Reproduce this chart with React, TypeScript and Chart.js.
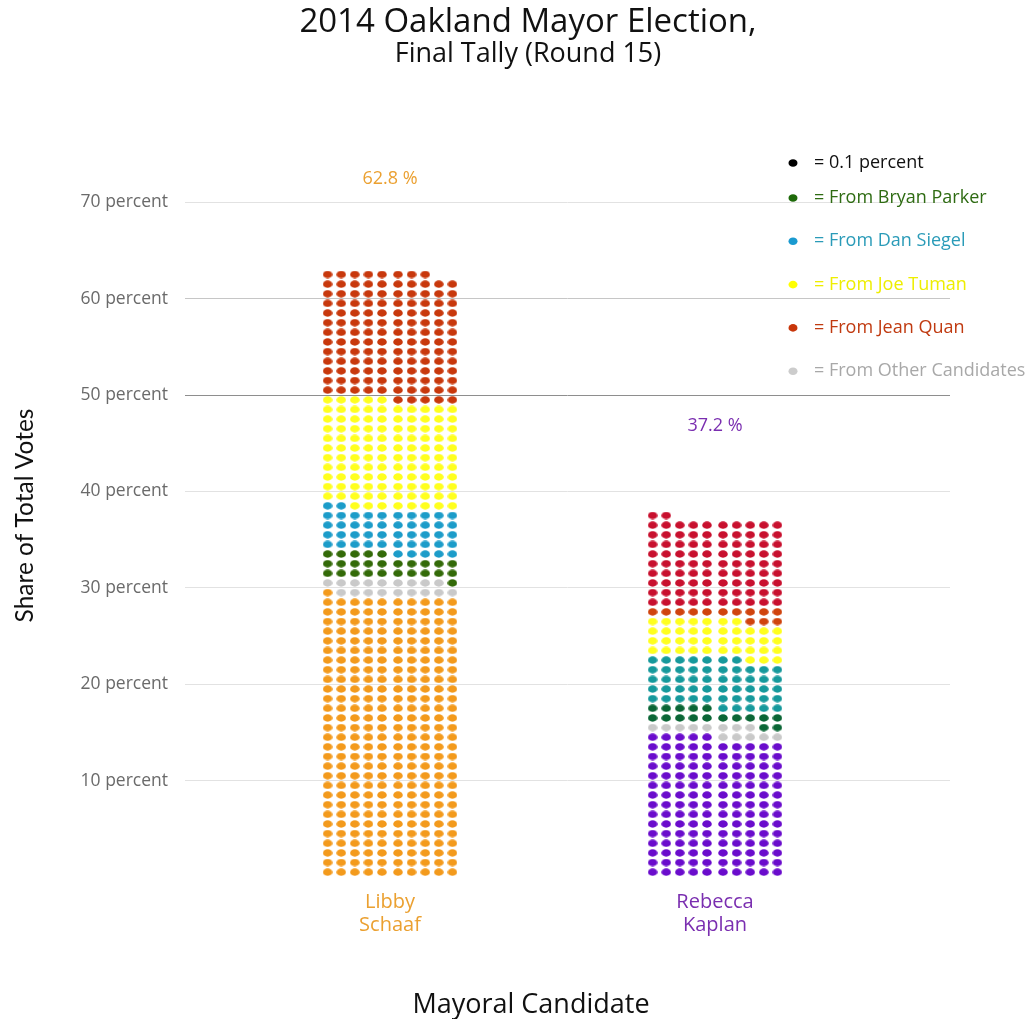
import { useEffect, useRef } from "react";
import { Chart, registerables } from "chart.js";

Chart.register(...registerables);

// ---------- data ----------
const candidates = ["Libby Schaaf", "Rebecca Kaplan"];
const totals = [62.8, 37.2]; // percent, final round
// dots (each = 0.1 percent), stacked bottom-to-top
const segmentNames = [
  "Own votes",
  "From Other Candidates",
  "From Bryan Parker",
  "From Dan Siegel",
  "From Joe Tuman",
  "From Jean Quan",
  "From Jean Quan (final)",
];
const schaafDots = [291, 18, 26, 47, 113, 133, 0];
const kaplanDots = [145, 13, 17, 52, 40, 13, 92];
const yTickValues = [10, 20, 30, 40, 50, 60, 70];
const legendLabels = [
  "= 0.1 percent",
  "= From Bryan Parker",
  "= From Dan Siegel",
  "= From Joe Tuman",
  "= From Jean Quan",
  "= From Other Candidates",
];

// ---------- styles ----------
const schaafColors = ["#f39a1c", "#c9c9c9", "#336a08", "#1c9cc9", "#ffff1e", "#c8380c", "#c8380c"];
const kaplanColors = ["#6a0ccc", "#c9c9c9", "#0b6636", "#16999c", "#ffff1e", "#d0440e", "#c8102e"];
const candidateColors = ["#eba030", "#7a2eb0"];
const legendDotColors = ["#000000", "#1e6a0a", "#1a9ad0", "#ffff00", "#c8360a", "#cccccc"];
const legendTextColors = ["#111111", "#2e6b12", "#2a9bb8", "#eeee00", "#c03a10", "#a8a8a8"];
const FONT = "'Open Sans', Lato, sans-serif";
const NARROW = "Lato, 'Open Sans', sans-serif";

const PX_PER_CAND = 325;
function colOffset(col: number): number {
  const px = col < 5 ? -(8 + 13.6 * (4 - col)) : 8 + 13.6 * (col - 5);
  return px / PX_PER_CAND;
}

function makeDot(color: string): HTMLCanvasElement {
  const c = document.createElement("canvas");
  c.width = 10;
  c.height = 8;
  const g = c.getContext("2d")!;
  g.fillStyle = color;
  g.beginPath();
  g.ellipse(5, 4, 4.8, 3.7, 0, 0, Math.PI * 2);
  g.fill();
  return c;
}

export default function App() {
  const ref = useRef<HTMLCanvasElement>(null);

  useEffect(() => {
    const canvas = ref.current!;
    const counts = [schaafDots, kaplanDots];
    const colors = [schaafColors, kaplanColors];
    const datasets: any[] = [];
    counts.forEach((segs, ci) => {
      let idx = 0;
      segs.forEach((n, si) => {
        const pts: { x: number; y: number }[] = [];
        for (let k = 0; k < n; k++, idx++) {
          const row = Math.floor(idx / 10);
          const col = idx % 10;
          pts.push({ x: ci + colOffset(col), y: row + 0.5 });
        }
        datasets.push({
          label: `${candidates[ci]} – ${segmentNames[si]}`,
          data: pts,
          pointStyle: makeDot(colors[ci][si]),
          backgroundColor: colors[ci][si],
          borderWidth: 0,
          pointRadius: 4,
        });
      });
    });

    const overlay = {
      id: "overlay",
      afterDraw(chart: any) {
        const g = chart.ctx as CanvasRenderingContext2D;
        const xs = chart.scales.x;
        const ys = chart.scales.y;
        g.save();
        g.textAlign = "center";
        g.textBaseline = "middle";
        g.fillStyle = "#111";
        g.font = `33px ${FONT}`;
        g.fillText("2014 Oakland Mayor Election,", 528, 23);
        g.font = `27px ${FONT}`;
        g.fillText("Final Tally (Round 15)", 528, 54);

        // x axis title
        g.font = `27px ${FONT}`;
        g.fillText("Mayoral Candidate", 531, 1005);

        // percent labels
        g.font = `18px ${FONT}`;
        totals.forEach((t, i) => {
          g.fillStyle = candidateColors[i];
          g.fillText(`${t} %`, xs.getPixelForValue(i), ys.getPixelForValue(t + 9.6));
        });

        // legend
        g.textAlign = "left";
        g.font = `18px ${FONT}`;
        legendLabels.forEach((lab, k) => {
          const y = k === 0 ? 163 : 198 + (k - 1) * 43.3;
          g.fillStyle = legendDotColors[k];
          g.beginPath();
          g.ellipse(793, y, 4.5, 3.8, 0, 0, Math.PI * 2);
          g.fill();
          g.fillStyle = legendTextColors[k];
          g.fillText(lab, 814, y);
        });
        g.restore();
      },
    };

    const chart = new Chart(canvas, {
      type: "scatter",
      data: { datasets },
      plugins: [overlay],
      options: {
        animation: false,
        responsive: false,
        devicePixelRatio: 1,
        events: [],
        layout: { padding: { top: 154, right: 84, bottom: 0, left: 0 } },
        plugins: {
          legend: { display: false },
          tooltip: { enabled: false },
          title: { display: false },
        },
        scales: {
          x: {
            type: "linear",
            min: -(390 - 185) / PX_PER_CAND,
            max: 1 + (950 - 715) / PX_PER_CAND,
            grid: { display: false, drawTicks: false },
            border: { display: false },
            afterFit: (s: any) => {
              s.height = 142;
            },
            afterBuildTicks: (s: any) => {
              s.ticks = candidates.map((_, i) => ({ value: i }));
            },
            ticks: {
              padding: 14,
              font: { family: FONT, size: 20, lineHeight: 1.15 },
              color: (ctx: any) => candidateColors[ctx.index] ?? "#000",
              callback: (v: any) => candidates[Number(v)]?.split(" ") ?? "",
            },
          },
          y: {
            type: "linear",
            min: 0,
            max: 75,
            afterFit: (s: any) => {
              s.width = 185;
            },
            afterBuildTicks: (s: any) => {
              s.ticks = yTickValues.map((v) => ({ value: v }));
            },
            grid: {
              drawTicks: false,
              color: (ctx: any) =>
                ctx.tick?.value === 50 ? "#8e8e8e" : ctx.tick?.value === 60 ? "#c6c6c6" : "#e2e2e2",
              lineWidth: 1,
            },
            border: { display: false },
            ticks: {
              padding: 17,
              color: "#6a6a6a",
              font: { family: FONT, size: 17.5 },
              callback: (v: any) => `${v} percent`,
            },
            title: {
              display: true,
              text: "Share of Total Votes",
              color: "#111",
              font: { family: NARROW, size: 24.5 },
              padding: { top: 10, bottom: 0 },
            },
          },
        },
      },
    });
    return () => chart.destroy();
  }, []);

  return (
    <div style={{ position: "fixed", left: 0, top: 0, width: 1034, height: 1019, background: "#fff" }}>
      <canvas ref={ref} width={1034} height={1019} style={{ display: "block" }} />
    </div>
  );
}
